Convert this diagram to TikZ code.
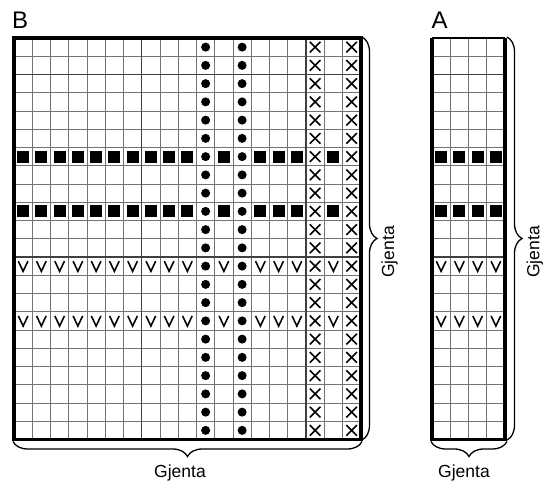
\documentclass[tikz,border=0pt]{standalone}
\usepackage{fontspec}
\setmainfont{Liberation Sans}
\usetikzlibrary{decorations.pathreplacing}
\newcommand\symsq[3]{\fill[black] ({#1+(#2-0.5)*18.25-6.1},{38+(#3-0.5)*18.25-6.1}) rectangle ++(12.2,12.2);}
\newcommand\symdot[3]{\fill[black] ({#1+(#2-0.5)*18.25},{38+(#3-0.5)*18.25}) circle[radius=4.5];}
\newcommand\symx[3]{\draw[symline] ({#1+(#2-0.5)*18.25-5.3},{38+(#3-0.5)*18.25-5.3}) -- ++(10.6,10.6) ++(-10.6,0) -- ++(10.6,-10.6);}
\newcommand\symv[3]{\draw[symline] ({#1+(#2-0.5)*18.25-4.8},{38+(#3-0.5)*18.25-5}) -- ++(4.8,10.2) -- ++(4.8,-10.2);}
\begin{document}
\begin{tikzpicture}[x=1pt,y=-1pt,
  gridline/.style={black!55, line width=0.7},
  darkline/.style={black!75, line width=1.1},
  frame/.style={line width=3.6},
  symline/.style={line width=1.55, line join=miter},
  bracel/.style={decorate, decoration={brace, amplitude=15}, line width=1.3},
  rep/.style={font=\fontsize{17.5}{20}\selectfont, inner sep=0},
  lbl/.style={font=\fontsize{24}{28}\selectfont, inner sep=0}]
\useasboundingbox (0,0) rectangle (543,482);
% ---------- chart B ----------
\foreach \i in {1,...,18} \draw[gridline] ({14+\i*18.25},38) -- ({14+\i*18.25},439.5);
\foreach \j in {1,...,21} \draw[gridline] (14,{38+\j*18.25}) -- (360.75,{38+\j*18.25});
\foreach \i in {7,16} \draw[darkline] ({14+\i*18.25},38) -- ({14+\i*18.25},439.5);
\foreach \j in {2,12} \draw[darkline] (14,{38+\j*18.25}) -- (360.75,{38+\j*18.25});
\foreach \r in {1,...,22} {\symdot{14}{11}{\r} \symdot{14}{13}{\r} \symx{14}{17}{\r} \symx{14}{19}{\r}}
\foreach \r in {7,10} {\foreach \c in {1,2,3,4,5,6,7,8,9,10,12,14,15,16,18} {\symsq{14}{\c}{\r}}}
\foreach \r in {13,16} {\foreach \c in {1,2,3,4,5,6,7,8,9,10,12,14,15,16,18} {\symv{14}{\c}{\r}}}
\draw[frame] (14,38) rectangle (360.75,439.5);
% ---------- chart A ----------
\foreach \i in {1,...,3} \draw[gridline] ({432+\i*18.25},38) -- ({432+\i*18.25},439.5);
\foreach \j in {1,...,21} \draw[gridline] (432,{38+\j*18.25}) -- (505,{38+\j*18.25});
\foreach \j in {2,12} \draw[darkline] (432,{38+\j*18.25}) -- (505,{38+\j*18.25});
\foreach \r in {7,10} {\foreach \c in {1,...,4} {\symsq{432}{\c}{\r}}}
\foreach \r in {13,16} {\foreach \c in {1,...,4} {\symv{432}{\c}{\r}}}
\draw[line width=2.6] (432,38) -- (505,38);
\draw[frame] (432,38) -- (432,439.5) -- (505,439.5) -- (505,38);
% ---------- braces ----------
\coordinate (bRt) at (362,37);
\coordinate (bRb) at (362,440);
\coordinate (bBl) at (13,441.5);
\coordinate (bBr) at (362,441.5);
\coordinate (aRt) at (507,37);
\coordinate (aRb) at (507,440);
\coordinate (aBl) at (431,441.5);
\coordinate (aBr) at (507,441.5);
\draw[bracel] (bRt) -- (bRb);
\draw[bracel] (bBr) -- (bBl);
\draw[bracel] (aRt) -- (aRb);
\draw[bracel] (aBr) -- (aBl);
% ---------- labels ----------
\node[lbl, anchor=base west] (labB) at (12,28) {B};
\node[lbl, anchor=base west] (labA) at (431.5,28) {A};
\node[rep, anchor=base] (gB1) at (180,477.5) {Gjenta};
\node[rep, anchor=base] (gA1) at (464,477) {Gjenta};
\node[rep, rotate=90, anchor=base] (gB2) at (394,252) {Gjenta};
\node[rep, rotate=90, anchor=base] (gA2) at (539.3,252) {Gjenta};
\end{tikzpicture}
\end{document}
